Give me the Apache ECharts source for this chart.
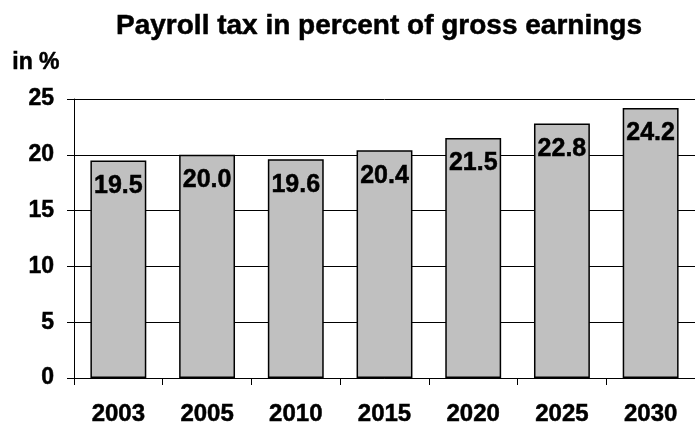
<!DOCTYPE html>
<html>
<head>
<meta charset="utf-8">
<script src="https://cdn.jsdelivr.net/npm/echarts@6/dist/echarts.min.js"></script>
<style>
  html, body { margin: 0; padding: 0; background: #fff; overflow: hidden; }
  #chart { width: 695px; height: 429px; }
</style>
</head>
<body>
<div id="chart"></div>
<script>
// Payroll tax data
const titleText = 'Payroll tax in percent of gross earnings';
const unitText = 'in %';
const years = ['2003', '2005', '2010', '2015', '2020', '2025', '2030'];
const taxRates = [19.5, 20.0, 19.6, 20.4, 21.5, 22.8, 24.2];
const yTicks = [0, 5, 10, 15, 20, 25];

const FONT = '"Liberation Sans", Arial, Helvetica, sans-serif';
// a thin outline in the text colour gives the heavy bold lettering
const HEAVY = { textBorderColor: '#000', textBorderWidth: 0.5 };

const chart = echarts.init(document.getElementById('chart'), null, { width: 695, height: 429 });

chart.setOption({
  animation: false,
  backgroundColor: '#ffffff',
  title: {
    text: titleText,
    left: 374,
    top: 7,
    textAlign: 'center',
    textStyle: Object.assign({ fontFamily: FONT, fontWeight: 'bold', fontSize: 28, color: '#000' }, HEAVY)
  },
  graphic: [{
    type: 'text',
    left: 12,
    top: 51,
    style: { text: unitText, font: 'bold 23px ' + FONT, fill: '#000', stroke: '#000', lineWidth: 0.5 }
  }],
  // plot area runs past the right edge of the page
  grid: { left: 74, top: 99, width: 630, height: 279, containLabel: false },
  xAxis: {
    type: 'category',
    data: years,
    boundaryGap: true,
    axisLine: { show: true, lineStyle: { color: '#000', width: 1 } },
    axisTick: { show: true, length: 7, alignWithLabel: false, lineStyle: { color: '#000', width: 1 } },
    axisLabel: Object.assign({ margin: 24, fontFamily: FONT, fontWeight: 'bold', fontSize: 24, color: '#000' }, HEAVY),
    splitLine: { show: false }
  },
  yAxis: {
    type: 'value',
    min: yTicks[0],
    max: yTicks[yTicks.length - 1],
    interval: 5,
    axisLine: { show: true, lineStyle: { color: '#000', width: 1 } },
    axisTick: { show: true, length: 7, inside: false, lineStyle: { color: '#000', width: 1 } },
    axisLabel: Object.assign({ margin: 20, fontFamily: FONT, fontWeight: 'bold', fontSize: 23, color: '#000' }, HEAVY),
    splitLine: { show: true, lineStyle: { color: '#000', width: 1 } }
  },
  series: [{
    type: 'bar',
    data: taxRates,
    barWidth: '63%',
    itemStyle: { color: '#c0c0c0', borderColor: '#000', borderWidth: 1.5 },
    label: Object.assign({
      show: true,
      position: 'insideTop',
      distance: 13,
      formatter: p => p.value.toFixed(1),
      fontFamily: FONT,
      fontWeight: 'bold',
      fontSize: 25,
      color: '#000'
    }, HEAVY)
  }]
});
</script>
</body>
</html>
